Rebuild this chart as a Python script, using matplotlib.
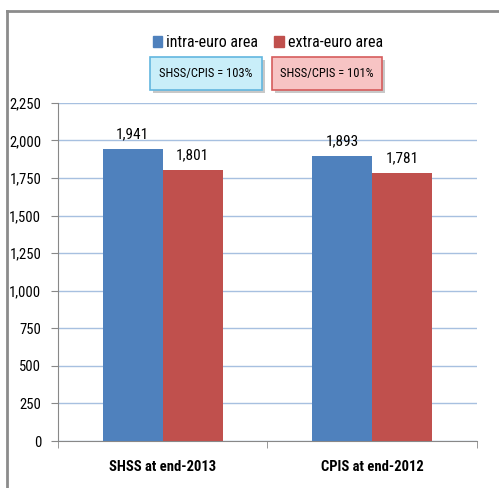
import matplotlib
matplotlib.use("Agg")
import matplotlib.pyplot as plt
import numpy as np
from matplotlib import font_manager
from matplotlib.patches import Patch, Rectangle

# font: narrow family if there is one, otherwise Liberation Sans
names = set(f.name for f in font_manager.fontManager.ttflist)
fam = 'Liberation Sans'
for cand in ['Liberation Sans Narrow', 'Roboto Condensed', 'Open Sans Condensed']:
    if cand in names:
        fam = cand
        break
plt.rcParams['font.family'] = [fam, 'DejaVu Sans']

categories = ['SHSS at end-2013', 'CPIS at end-2012']
intra = [1941, 1893]
extra = [1801, 1781]
series_names = ['intra-euro area', 'extra-euro area']
ratio_labels = ['SHSS/CPIS = 103%', 'SHSS/CPIS = 101%']
yticks = [0, 250, 500, 750, 1000, 1250, 1500, 1750, 2000, 2250]

blue = '#4f81bd'
red = '#c0504d'

W, H = 499, 488
fig = plt.figure(figsize=(W / 100, H / 100), dpi=100)
ax = fig.add_axes([0.116, 0.0963, 0.84, 0.693])

x = np.arange(len(categories))
w = 0.286
b1 = ax.bar(x - w / 2, intra, w, color=blue, zorder=3)
b2 = ax.bar(x + w / 2, extra, w, color=red, zorder=3)

for bars in (b1, b2):
    for r in bars:
        ax.text(r.get_x() + r.get_width() / 2, r.get_height() + 55,
                f'{r.get_height():,.0f}', ha='center', va='bottom', fontsize=11)

ax.set_ylim(0, 2250)
ax.set_xlim(-0.5, 1.5)
ax.set_yticks(yticks)
ax.set_yticklabels([f'{v:,}' for v in yticks], fontsize=10.5)
ax.set_xticks(x)
ax.set_xticklabels(categories, fontsize=10.5, fontweight='bold')
ax.set_xticks([-0.5, 0.5, 1.5], minor=True)
ax.tick_params(axis='x', which='major', length=0, pad=14)
ax.tick_params(axis='x', which='minor', length=5, color='#888888')
ax.tick_params(axis='y', length=5, color='#888888', pad=7)

ax.grid(axis='y', color='#a7c0e0', linewidth=1, zorder=0)
for s in ['top', 'right']:
    ax.spines[s].set_visible(False)
ax.spines['left'].set_color('#888888')
ax.spines['bottom'].set_color('#888888')

# legend at top
handles = [Patch(color=blue), Patch(color=red)]
fig.legend(handles, series_names, loc='center', bbox_to_anchor=(0.537, 0.912),
           ncol=2, frameon=False, fontsize=11.5, handlelength=0.6, handleheight=0.7,
           handletextpad=0.25, columnspacing=1.0)

# ratio boxes (pixel extents)
boxes = [((150, 57, 112, 33), '#c9eef9', '#62b6df'),
         ((272, 57, 110, 33), '#f7c4c4', '#d65c5c')]
for (bx, by, bw, bh), fc, ec in boxes:
    shadow = Rectangle(((bx + 3) / W, 1 - (by + bh + 3) / H), bw / W, bh / H,
                       transform=fig.transFigure, fc='#c8c8c8', ec='none', zorder=1)
    box = Rectangle((bx / W, 1 - (by + bh) / H), bw / W, bh / H,
                    transform=fig.transFigure, fc=fc, ec=ec, lw=1.2, zorder=2)
    fig.add_artist(shadow)
    fig.add_artist(box)
for i, (bx, by, bw, bh) in enumerate([b[0] for b in boxes]):
    fig.text((bx + bw / 2) / W, 1 - (by + bh / 2) / H, ratio_labels[i],
             ha='center', va='center', fontsize=9, zorder=3)

# outer frame (top and left)
fig.add_artist(plt.Line2D([0.014, 1.0], [0.977, 0.977], color='#8c8c8c', lw=2,
                          transform=fig.transFigure))
fig.add_artist(plt.Line2D([0.014, 0.014], [0.0, 0.977], color='#8c8c8c', lw=2,
                          transform=fig.transFigure))

fig.savefig('out.png', dpi=100)
